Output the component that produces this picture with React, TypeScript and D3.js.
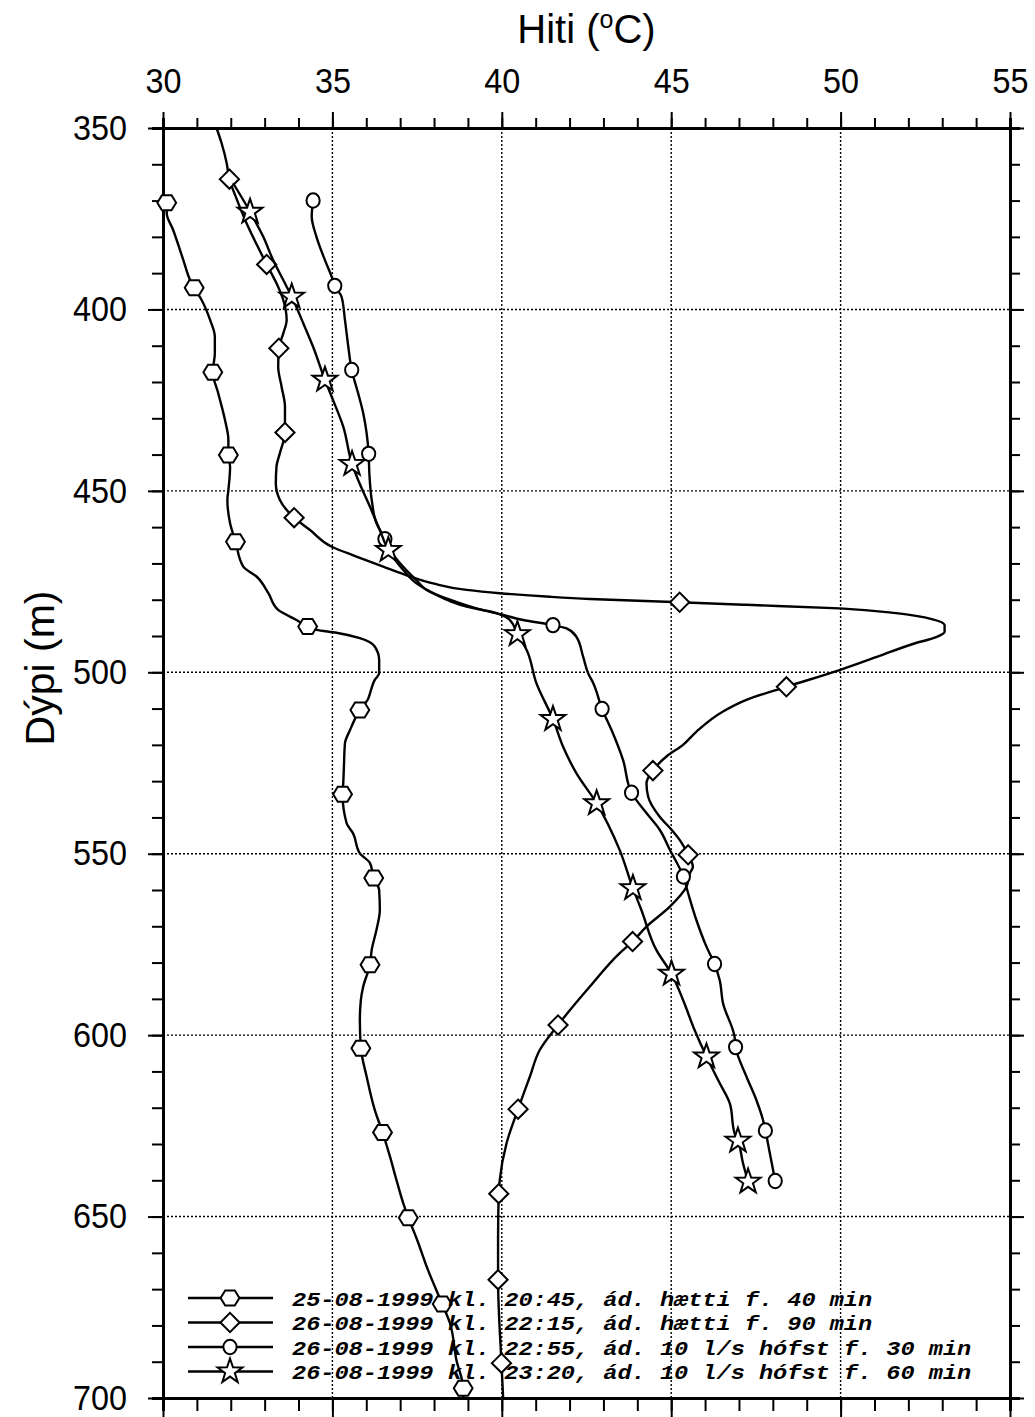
import { useEffect, useRef } from 'react';
import * as d3 from 'd3';

type Pt = [number, number]; // [depth (m), temperature (°C)]

const TEMP_TICKS = [30, 35, 40, 45, 50, 55];
const DEPTH_TICKS = [350, 400, 450, 500, 550, 600, 650, 700];
const TEMP_GRID = [35, 40, 45, 50];
const DEPTH_GRID = [400, 450, 500, 550, 600, 650];

const LEGEND_LABELS = [
  '25-08-1999 kl. 20:45, ád. hætti f. 40 min',
  '26-08-1999 kl. 22:15, ád. hætti f. 90 min',
  '26-08-1999 kl. 22:55, ád. 10 l/s hófst f. 30 min',
  '26-08-1999 kl. 23:20, ád. 10 l/s hófst f. 60 min',
];

// 25-08-1999 20:45 (hexagon)
const hexLine: Pt[] = [
  [370.6, 30.11], [373.5, 30.11], [378.1, 30.3], [386.4, 30.6], [391.9, 30.8], [394.0, 30.92],
  [397.4, 31.14], [402.9, 31.39], [407.5, 31.53], [412.1, 31.53], [417.3, 31.47], [423.1, 31.63],
  [430.5, 31.83], [436.0, 31.93], [440.1, 31.93], [443.4, 31.98], [449.8, 31.93], [452.5, 31.9],
  [458.9, 31.98], [464.0, 32.14], [470.9, 32.37], [473.6, 32.76], [478.2, 33.11], [482.8, 33.4],
  [485.6, 33.94], [487.4, 34.27], [488.3, 34.53], [489.1, 35.12], [490.6, 35.81], [492.9, 36.25],
  [496.6, 36.38], [500.3, 36.38], [502.1, 36.25], [505.8, 36.11], [507.2, 36.06], [510.4, 35.81],
  [515.9, 35.52], [519.6, 35.37], [526.0, 35.34], [530.6, 35.32], [533.6, 35.3], [541.6, 35.42],
  [544.4, 35.61], [549.9, 35.81], [552.6, 36.11], [556.7, 36.22], [560.0, 36.38], [565.5, 36.4],
  [571.0, 36.3], [576.5, 36.16], [580.6, 36.11], [586.6, 35.91], [590.3, 35.84], [595.8, 35.81],
  [603.6, 35.84], [611.4, 36.01], [620.6, 36.25], [626.8, 36.48], [633.5, 36.7], [639.9, 36.89],
  [646.3, 37.09], [650.3, 37.24], [655.9, 37.48], [664.7, 37.82], [674.1, 38.24], [679.4, 38.47],
  [689.5, 38.66], [697.3, 38.86], [700.0, 38.86],
];
const hexMarks: Pt[] = [
  [370.6, 30.11], [394.0, 30.92], [417.3, 31.47], [440.1, 31.93], [464.0, 32.14], [487.4, 34.27],
  [510.4, 35.81], [533.6, 35.3], [556.7, 36.22], [580.6, 36.11], [603.6, 35.84], [626.8, 36.48],
  [650.3, 37.24], [674.1, 38.24], [697.3, 38.86],
];

// 26-08-1999 22:15 (diamond)
const diaLine: Pt[] = [
  [350.0, 31.58], [354.2, 31.73], [359.7, 31.88], [364.1, 31.96], [369.0, 32.15], [375.9, 32.45],
  [382.2, 32.77], [387.6, 33.06], [392.8, 33.35], [397.4, 33.55], [402.9, 33.65], [406.6, 33.55],
  [410.7, 33.42], [415.8, 33.4], [421.3, 33.5], [426.8, 33.6], [433.9, 33.6], [439.6, 33.45],
  [443.3, 33.35], [447.9, 33.33], [452.5, 33.45], [457.4, 33.87], [460.8, 34.34], [465.4, 34.98],
  [468.1, 35.71], [470.9, 36.5], [473.6, 37.29], [475.5, 37.97], [477.3, 38.96], [478.2, 39.94],
  [479.2, 41.42], [479.8, 42.6], [480.7, 45.25], [481.4, 47.22], [482.4, 49.97], [483.7, 51.64],
  [485.4, 52.72], [487.0, 53.07], [488.8, 53.07], [490.3, 52.82], [492.2, 52.13], [495.5, 51.15],
  [499.4, 49.97], [504.0, 48.4], [507.6, 47.22], [510.8, 46.53], [516.4, 45.74], [520.0, 45.35],
  [523.2, 44.86], [527.1, 44.46], [530.6, 44.27], [534.3, 44.32], [539.8, 44.66], [543.4, 45.01],
  [546.2, 45.25], [550.3, 45.5], [553.6, 45.64], [555.4, 45.55], [559.1, 45.45], [564.6, 44.96],
  [570.1, 44.27], [574.2, 43.86], [577.4, 43.48], [586.6, 42.6], [597.2, 41.66], [604.1, 41.12],
  [611.4, 40.83], [620.4, 40.48], [629.8, 40.14], [639.9, 39.94], [643.7, 39.91], [655.5, 39.89],
  [667.4, 39.89], [690.4, 39.99], [700.0, 40.04],
];
const diaMarks: Pt[] = [
  [364.1, 31.96], [387.6, 33.06], [410.7, 33.42], [433.9, 33.6], [457.4, 33.87], [480.7, 45.25],
  [504.0, 48.4], [527.1, 44.46], [550.3, 45.5], [574.2, 43.86], [597.2, 41.66], [620.4, 40.48],
  [643.7, 39.91], [667.4, 39.89], [690.4, 39.99],
];

// 26-08-1999 22:55 (circle)
const cirLine: Pt[] = [
  [370.0, 34.43], [374.4, 34.39], [380.0, 34.53], [386.4, 34.78], [391.0, 34.98], [393.5, 35.07],
  [396.5, 35.27], [402.9, 35.37], [410.3, 35.47], [416.7, 35.57], [423.1, 35.76], [428.6, 35.91],
  [434.1, 36.01], [439.8, 36.07], [445.1, 36.09], [452.5, 36.16], [458.9, 36.3], [463.3, 36.55],
  [466.3, 36.7], [470.9, 37.09], [474.6, 37.48], [477.3, 37.78], [480.0, 38.47], [482.4, 39.25],
  [484.2, 40.04], [485.6, 40.63], [487.0, 41.51], [487.9, 41.91], [490.2, 42.2], [495.7, 42.4],
  [500.3, 42.55], [503.0, 42.7], [510.1, 42.96], [516.8, 43.28], [524.2, 43.58], [533.2, 43.83],
  [538.8, 44.27], [543.4, 44.66], [548.9, 44.96], [556.3, 45.36], [560.9, 45.5], [568.2, 45.74],
  [575.6, 46.04], [580.4, 46.28], [584.8, 46.43], [591.2, 46.53], [600.4, 46.87], [603.3, 46.9],
  [611.4, 47.22], [617.8, 47.51], [623.4, 47.71], [626.3, 47.78], [632.5, 47.91], [640.2, 48.07],
];
const cirMarks: Pt[] = [
  [370.0, 34.43], [393.5, 35.07], [416.7, 35.57], [439.8, 36.07], [463.3, 36.55], [487.0, 41.51],
  [510.1, 42.96], [533.2, 43.83], [556.3, 45.36], [580.4, 46.28], [603.3, 46.9], [626.3, 47.78],
  [640.2, 48.07],
];

// 26-08-1999 23:20 (star)
const starLine: Pt[] = [
  [365.2, 32.07], [373.1, 32.57], [380.0, 32.96], [386.4, 33.25], [391.9, 33.55], [396.5, 33.8],
  [403.8, 34.14], [410.3, 34.43], [419.4, 34.78], [425.0, 35.02], [432.3, 35.32], [442.6, 35.58],
  [447.0, 35.76], [454.4, 36.11], [460.8, 36.4], [466.3, 36.65], [471.8, 37.09], [475.5, 37.48],
  [478.2, 37.97], [481.9, 38.96], [483.7, 39.84], [485.6, 40.24], [489.5, 40.46], [493.8, 40.73],
  [503.0, 41.02], [512.9, 41.51], [520.5, 41.81], [527.8, 42.2], [536.1, 42.8], [549.0, 43.48],
  [559.5, 43.87], [565.5, 44.12], [576.5, 44.56], [583.1, 45.01], [590.3, 45.35], [598.6, 45.69],
  [605.9, 46.04], [613.2, 46.43], [618.8, 46.73], [627.0, 46.87], [629.1, 46.97], [635.3, 47.12],
  [640.4, 47.27],
];
const starMarks: Pt[] = [
  [373.1, 32.57], [396.5, 33.8], [419.4, 34.78], [442.6, 35.58], [466.3, 36.65], [489.5, 40.46],
  [512.9, 41.51], [536.1, 42.8], [559.5, 43.87], [583.1, 45.01], [605.9, 46.04], [629.1, 46.97],
  [640.4, 47.27],
];

const hexPath = 'M-9.4,0L-4.8,-7.5L4.8,-7.5L9.4,0L4.8,7.5L-4.8,7.5Z';
const diaPath = 'M0,-9.6L9.6,0L0,9.6L-9.6,0Z';
const cirPath = 'M-6.6,0A6.6,7.2 0 1,0 6.6,0A6.6,7.2 0 1,0 -6.6,0Z';
const starPath = (() => {
  const pts: string[] = [];
  for (let i = 0; i < 10; i++) {
    const r = i % 2 === 0 ? 13 : 5.1;
    const a = -Math.PI / 2 + (i * Math.PI) / 5;
    pts.push(`${(r * Math.cos(a)).toFixed(2)},${(r * Math.sin(a)).toFixed(2)}`);
  }
  return 'M' + pts.join('L') + 'Z';
})();

const SERIES = [
  { line: hexLine, marks: hexMarks, symbol: hexPath },
  { line: diaLine, marks: diaMarks, symbol: diaPath },
  { line: cirLine, marks: cirMarks, symbol: cirPath },
  { line: starLine, marks: starMarks, symbol: starPath },
];

const WIDTH = 1035;
const HEIGHT = 1417;

export default function App() {
  const svgRef = useRef<SVGSVGElement>(null);

  useEffect(() => {
    if (!svgRef.current) return;
    const svg = d3.select(svgRef.current);
    svg.selectAll('*').remove();

    const margin = { top: 128, right: 25, bottom: 19, left: 163 };
    const innerWidth = WIDTH - margin.left - margin.right;
    const innerHeight = HEIGHT - margin.top - margin.bottom;
    const sans = 'Liberation Sans, Arial, sans-serif';

    const x = d3.scaleLinear().domain([30, 55]).range([0, innerWidth]);
    const y = d3.scaleLinear().domain([350, 700]).range([0, innerHeight]);

    const g = svg.append('g').attr('transform', `translate(${margin.left},${margin.top})`);

    // dotted grid
    g.selectAll('.vgrid')
      .data(TEMP_GRID)
      .join('line')
      .attr('x1', d => x(d))
      .attr('x2', d => x(d))
      .attr('y1', 0)
      .attr('y2', innerHeight)
      .attr('stroke', '#000')
      .attr('stroke-width', 1.4)
      .attr('stroke-dasharray', '2,2');
    g.selectAll('.hgrid')
      .data(DEPTH_GRID)
      .join('line')
      .attr('x1', 0)
      .attr('x2', innerWidth)
      .attr('y1', d => y(d))
      .attr('y2', d => y(d))
      .attr('stroke', '#000')
      .attr('stroke-width', 1.4)
      .attr('stroke-dasharray', '2,2');

    // axes: minor ticks first, then major ticks with labels
    const minorT = d3.range(30, 56, 1);
    const minorD = d3.range(350, 701, 10);
    const styleAxis = (sel: d3.Selection<SVGGElement, unknown, null, undefined>) => {
      sel.selectAll('.domain').attr('stroke-width', 3).attr('stroke', '#000');
      sel.selectAll('.tick line').attr('stroke-width', 2).attr('stroke', '#000');
    };

    const axes = [
      { gen: d3.axisTop(x), ticks: TEMP_TICKS, minor: minorT, tr: '', big: 16, small: 10, label: true, pad: 19 },
      { gen: d3.axisBottom(x), ticks: TEMP_TICKS, minor: minorT, tr: `translate(0,${innerHeight})`, big: 19, small: 13, label: false, pad: 0 },
      { gen: d3.axisLeft(y), ticks: DEPTH_TICKS, minor: minorD, tr: '', big: 15, small: 11, label: true, pad: 21 },
      { gen: d3.axisRight(y), ticks: DEPTH_TICKS, minor: minorD, tr: `translate(${innerWidth},0)`, big: 14, small: 10, label: false, pad: 0 },
    ];
    for (const a of axes) {
      const minorAxis = a.gen.tickValues(a.minor).tickSize(a.small).tickFormat(() => '');
      const gm = g.append('g').attr('transform', a.tr).call(minorAxis as any);
      styleAxis(gm);
      const majorAxis = a.gen
        .tickValues(a.ticks)
        .tickSize(a.big)
        .tickPadding(a.pad)
        .tickFormat(a.label ? (d => String(d)) : () => '');
      const gM = g.append('g').attr('transform', a.tr).call(majorAxis as any);
      styleAxis(gM);
      gM.select('.domain').remove();
      gM.selectAll('.tick text')
        .attr('font-family', sans)
        .attr('font-size', 35)
        .attr('fill', '#000')
        .attr('textLength', function () {
          return ((this as SVGTextElement).textContent || '').length * 18;
        })
        .attr('lengthAdjust', 'spacingAndGlyphs');
    }

    // series
    const line = d3
      .line<Pt>()
      .x(d => x(d[1]))
      .y(d => y(d[0]))
      .curve(d3.curveMonotoneY);

    SERIES.forEach(s => {
      g.append('path')
        .attr('d', line(s.line) || '')
        .attr('fill', 'none')
        .attr('stroke', '#000')
        .attr('stroke-width', 2.4)
        .attr('stroke-linejoin', 'round');
      g.selectAll(null)
        .data(s.marks)
        .join('path')
        .attr('d', s.symbol)
        .attr('transform', d => `translate(${x(d[1])},${y(d[0])})`)
        .attr('fill', '#fff')
        .attr('stroke', '#000')
        .attr('stroke-width', 2);
    });

    // legend
    const legendY = [1298, 1322.5, 1347, 1371.5];
    const lg = svg.append('g');
    LEGEND_LABELS.forEach((label, i) => {
      const ly = legendY[i];
      lg.append('line')
        .attr('x1', 188)
        .attr('x2', 273)
        .attr('y1', ly)
        .attr('y2', ly)
        .attr('stroke', '#000')
        .attr('stroke-width', 2.4);
      lg.append('path')
        .attr('d', SERIES[i].symbol)
        .attr('transform', `translate(230,${ly})`)
        .attr('fill', '#fff')
        .attr('stroke', '#000')
        .attr('stroke-width', 2);
      lg.append('text')
        .attr('x', 292)
        .attr('y', ly)
        .attr('dy', '0.36em')
        .attr('textLength', label.length * 14.15)
        .attr('lengthAdjust', 'spacingAndGlyphs')
        .style('font-family', 'Liberation Mono, Courier New, monospace')
        .style('font-weight', 'bold')
        .style('font-style', 'italic')
        .style('font-size', '21px')
        .attr('fill', '#000')
        .text(label);
    });

    // axis titles
    const title = svg
      .append('text')
      .attr('x', margin.left + innerWidth / 2)
      .attr('y', 43)
      .attr('text-anchor', 'middle')
      .style('font-family', sans)
      .style('font-size', '40px')
      .attr('fill', '#000');
    title.append('tspan').text('Hiti (');
    title.append('tspan').attr('dy', -15).style('font-size', '25px').text('o');
    title.append('tspan').attr('dy', 15).text('C)');

    svg
      .append('text')
      .attr('transform', 'translate(54,668) rotate(-90)')
      .attr('text-anchor', 'middle')
      .style('font-family', sans)
      .style('font-size', '41px')
      .attr('fill', '#000')
      .text('Dýpi (m)');
  }, []);

  return (
    <svg
      ref={svgRef}
      width={WIDTH}
      height={HEIGHT}
      style={{ position: 'absolute', left: 0, top: 0, background: '#fff' }}
    />
  );
}
